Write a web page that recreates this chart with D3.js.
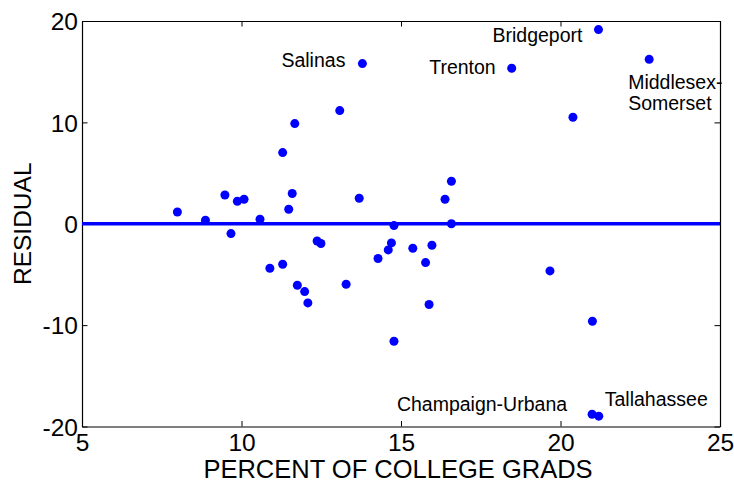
<!DOCTYPE html>
<html>
<head>
<meta charset="utf-8">
<script src="https://cdn.jsdelivr.net/npm/d3@7/dist/d3.min.js"></script>
<style>
  html, body { margin: 0; padding: 0; background: #fff; }
  svg { display: block; }
  text { font-family: "Liberation Sans", Arial, Helvetica, sans-serif; fill: #000; }
</style>
</head>
<body>
<svg id="chart" width="734" height="483"></svg>
<script>
// Percent of college graduates for each metro area
const collegePct = [
  7.99, 8.87, 9.48, 9.67, 9.87, 10.08, 10.58, 10.89, 11.29, 11.29,
  11.48, 11.59, 11.67, 11.75, 11.98, 12.08, 12.37, 12.49, 13.08, 13.28,
  13.69, 13.79, 14.28, 14.60, 14.70, 14.78, 14.78, 15.37, 15.77, 15.88,
  15.97, 16.38, 16.58, 16.58, 18.47, 19.67, 20.39, 20.99, 21.00, 21.19,
  21.20, 22.78
];

// Regression residual for each metro area
const residual = [
  1.16, 0.35, 2.84, -0.97, 2.22, 2.42, 0.44, -4.39, -4.00, 7.02,
  1.43, 2.98, 9.88, -6.07, -6.69, -7.81, -1.70, -1.95, 11.16, -5.97,
  2.51, 15.80, -3.43, -2.58, -1.89, -0.18, -11.59, -2.42, -3.83, -7.97,
  -2.12, 2.42, 4.19, 0.00, 15.34, -4.65, 10.50, -18.79, -9.62, 19.15,
  -18.98, 16.22
];

// Named outliers: index into the arrays above and the area name
const labelIndex = [21, 34, 39, 41, 37, 40];
const labelName = ["Salinas", "Trenton", "Bridgeport", "Middlesex-Somerset", "Champaign-Urbana", "Tallahassee"];

const xTicks = [5, 10, 15, 20, 25];
const yTicks = [-20, -10, 0, 10, 20];

const xTitle = "PERCENT OF COLLEGE GRADS";
const yTitle = "RESIDUAL";

// ---- layout ----
const plot = { left: 82, right: 720, top: 21, bottom: 426.5 };

const svg = d3.select("#chart");

const x = d3.scaleLinear().domain([5, 25]).range([plot.left, plot.right]);
const y = d3.scaleLinear().domain([-20, 20]).range([plot.bottom, plot.top]);

const tickLen = 5.5;
const tickFont = "24.5px";
const plain = d => String(d);   // ASCII hyphen for negatives

// Frame with inward ticks on all four sides
const gBottom = svg.append("g")
  .attr("transform", `translate(0,${plot.bottom})`)
  .call(d3.axisBottom(x).tickValues(xTicks).tickFormat(plain)
    .tickSizeInner(-tickLen).tickSizeOuter(0));
const gTop = svg.append("g")
  .attr("transform", `translate(0,${plot.top})`)
  .call(d3.axisTop(x).tickValues(xTicks).tickFormat("")
    .tickSizeInner(-tickLen).tickSizeOuter(0));
const gLeft = svg.append("g")
  .attr("transform", `translate(${plot.left},0)`)
  .call(d3.axisLeft(y).tickValues(yTicks).tickFormat(plain)
    .tickSizeInner(-tickLen).tickSizeOuter(0));
const gRight = svg.append("g")
  .attr("transform", `translate(${plot.right},0)`)
  .call(d3.axisRight(y).tickValues(yTicks).tickFormat("")
    .tickSizeInner(-tickLen).tickSizeOuter(0));

[gBottom, gTop, gLeft, gRight].forEach(g => {
  g.select(".domain").attr("stroke", "#000").attr("stroke-width", 1.2);
  g.selectAll(".tick line").attr("stroke", "#000").attr("stroke-width", 1);
  g.selectAll(".tick text")
    .style("font-size", tickFont)
    .style("font-family", '"Liberation Sans", Arial, sans-serif')
    .attr("fill", "#000");
});
// tick labels sit just outside the frame
gBottom.selectAll(".tick text").attr("y", 7).attr("dy", "0.71em");
gLeft.selectAll(".tick text").attr("x", -4).attr("dy", "0.36em");

// Axis titles
svg.append("text")
  .attr("x", (plot.left + plot.right) / 2 - 3)
  .attr("y", 478)
  .attr("text-anchor", "middle")
  .style("font-size", "25.5px")
  .text(xTitle);

svg.append("text")
  .attr("transform", `translate(31,${(plot.top + plot.bottom) / 2}) rotate(-90)`)
  .attr("text-anchor", "middle")
  .style("font-size", "24.5px")
  .text(yTitle);

// Zero reference line
svg.append("line")
  .attr("x1", x(5)).attr("x2", x(25))
  .attr("y1", y(0)).attr("y2", y(0))
  .attr("stroke", "#0000ff")
  .attr("stroke-width", 3.6);

// Residual points
const pts = collegePct.map((v, i) => ({ x: v, y: residual[i] }));
svg.append("g")
  .selectAll("circle")
  .data(pts)
  .join("circle")
  .attr("cx", d => x(d.x))
  .attr("cy", d => y(d.y))
  .attr("r", 4.5)
  .attr("fill", "#0000ff");

// Outlier labels, placed beside their points
const placement = {
  "Salinas":            { anchor: "end",   dx: -17, dy: 3 },
  "Trenton":            { anchor: "end",   dx: -16, dy: 6 },
  "Bridgeport":         { anchor: "end",   dx: -16, dy: 12 },
  "Middlesex-Somerset": { anchor: "start", dx: -21, dy: 30, lines: ["Middlesex-", "Somerset"] },
  "Champaign-Urbana":   { anchor: "end",   dx: -25, dy: -3 },
  "Tallahassee":        { anchor: "start", dx: 6,   dy: -10 }
};

labelIndex.forEach((idx, k) => {
  const name = labelName[k];
  const p = placement[name];
  const px = x(collegePct[idx]), py = y(residual[idx]);
  const t = svg.append("text")
    .attr("text-anchor", p.anchor)
    .style("font-size", "19.5px");
  const lines = p.lines || [name];
  lines.forEach((ln, j) => {
    t.append("tspan")
      .attr("x", px + p.dx)
      .attr("y", py + p.dy + j * 21)
      .text(ln);
  });
});
</script>
</body>
</html>
